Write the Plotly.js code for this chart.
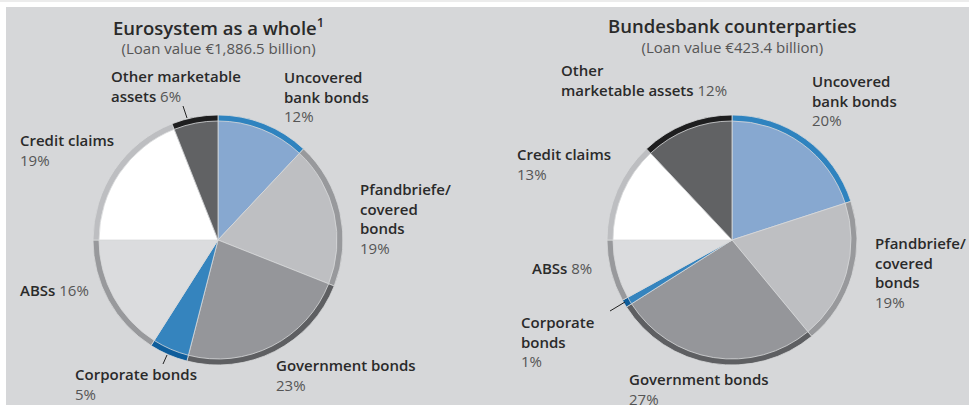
<!DOCTYPE html>
<html><head><meta charset="utf-8">
<script src="https://cdn.plot.ly/plotly-3.0.1.min.js"></script>
<style>body{margin:0;background:#fff}#chart{width:969px;height:405px}</style>
</head><body><div id="chart"></div>
<script>
// ---- data ----
const categories = ['Uncovered bank bonds','Pfandbriefe/covered bonds','Government bonds','Corporate bonds','ABSs','Credit claims','Other marketable assets'];
const euroValues = [12, 19, 23, 5, 16, 19, 6];
const bbkValues  = [20, 19, 27, 1, 8, 13, 12];
const euroTitle = 'Eurosystem as a whole<sup>1</sup>';
const euroSub = '(Loan value €1,886.5 billion)';
const bbkTitle = 'Bundesbank counterparties';
const bbkSub = '(Loan value €423.4 billion)';
// label line breaks (name lines; flag = percentage on same line)
const euroNameLines = [['Uncovered','bank bonds'],['Pfandbriefe/','covered','bonds'],['Government bonds'],['Corporate bonds'],['ABSs'],['Credit claims'],['Other marketable','assets']];
const euroSameLine = [false,false,false,false,true,false,true];
const bbkNameLines = [['Uncovered','bank bonds'],['Pfandbriefe/','covered','bonds'],['Government bonds'],['Corporate','bonds'],['ABSs'],['Credit claims'],['Other','marketable assets']];
const bbkSameLine = [false,false,false,false,true,false,true];

// ---- styles ----
const fillColors = ['#87a8d0','#bebfc2','#95969a','#3584be','#dbdcde','#ffffff','#616264'];
const ringColors = ['#2f83bf','#98999c','#5e5f62','#0e5d9b','#98999c','#bdbec1','#1e1e1f'];
const W = 969, H = 405;
const bg = '#d6d7d9';
const pies = [{cx:218, cy:240}, {cx:732, cy:240}];
const rOuter = 125, rInner = 119;
// label positions (px): [x left, y centre of block]
const euroPos = [[282,96],[358,218],[274,375],[73,384],[18,290],[18,150],[109,86]];
const bbkPos  = [[810,100],[873,272],[627,389],[519,341],[530,268],[515,164],[559,80]];

function dom(c, r){
  return {x:[(c.cx-r)/W,(c.cx+r)/W], y:[(H-c.cy-r)/H,(H-c.cy+r)/H]};
}
function pieTrace(vals, c, r, colors){
  return {type:'pie', values:vals, labels:categories, sort:false, direction:'clockwise', rotation:0,
    domain:dom(c,r), textinfo:'none', hoverinfo:'label+value',
    marker:{colors:colors, line:{color:'#d8d9db', width:0.8}}, showlegend:false};
}
const data = [
  pieTrace(euroValues, pies[0], rOuter, ringColors),
  pieTrace(euroValues, pies[0], rInner, fillColors),
  pieTrace(bbkValues, pies[1], rOuter, ringColors),
  pieTrace(bbkValues, pies[1], rInner, fillColors)
];
const FONT = 'Open Sans, Noto Sans, sans-serif';
function labelText(lines, val, same){
  const nm = l => '<span style="font-weight:600;color:#2a2a2a">'+l+'</span>';
  const out = lines.map(nm);
  const pct = '<span style="color:#555">'+val+'%</span>';
  if (same) out[out.length-1] += ' ' + pct; else out.push(pct);
  return out.join('<br>');
}
const annotations = [];
function addLabels(names, vals, same, pos){
  for (let i=0;i<names.length;i++){
    annotations.push({xref:'paper', yref:'paper', x:pos[i][0]/W, y:(H-pos[i][1])/H,
      xanchor:'left', yanchor:'middle', align:'left', showarrow:false,
      text:labelText(names[i], vals[i], same[i]), font:{family:FONT, size:15, color:'#555'}});
  }
}
addLabels(euroNameLines, euroValues, euroSameLine, euroPos);
addLabels(bbkNameLines, bbkValues, bbkSameLine, bbkPos);
function addTitle(t, s, cx){
  annotations.push({xref:'paper', yref:'paper', x:cx/W, y:(H-35)/H, xanchor:'center', yanchor:'middle', showarrow:false,
    align:'center',
    text:'<span style="font-size:18.5px;font-weight:600;color:#2a2a2a">'+t+'</span><br>'+s,
    font:{family:FONT, size:15, color:'#555'}});
}
addTitle(euroTitle, euroSub, 218);
addTitle(bbkTitle, bbkSub, 732);

function px(x,y){return [x/W,(H-y)/H];}
function seg(x0,y0,x1,y1){
  const a=px(x0,y0), b=px(x1,y1);
  return {type:'line', xref:'paper', yref:'paper', x0:a[0], y0:a[1], x1:b[0], y1:b[1], line:{color:'#222', width:1}};
}
const shapes = [
  {type:'rect', xref:'paper', yref:'paper', x0:0, x1:1, y0:(H-2)/H, y1:1, fillcolor:'#ececec', line:{width:0}, layer:'below'},
  {type:'rect', xref:'paper', yref:'paper', x0:6/W, x1:1, y0:0, y1:(H-7)/H, fillcolor:bg, line:{width:0}, layer:'below'},
  seg(183,106,187,118),
  seg(163,364,167,355),
  seg(610,311,625,302)
];
Plotly.newPlot('chart', data, {width:W, height:H, margin:{l:0,r:0,t:0,b:0}, paper_bgcolor:'#ffffff',
  showlegend:false, annotations:annotations, shapes:shapes}, {staticPlot:true});
</script></body></html>
